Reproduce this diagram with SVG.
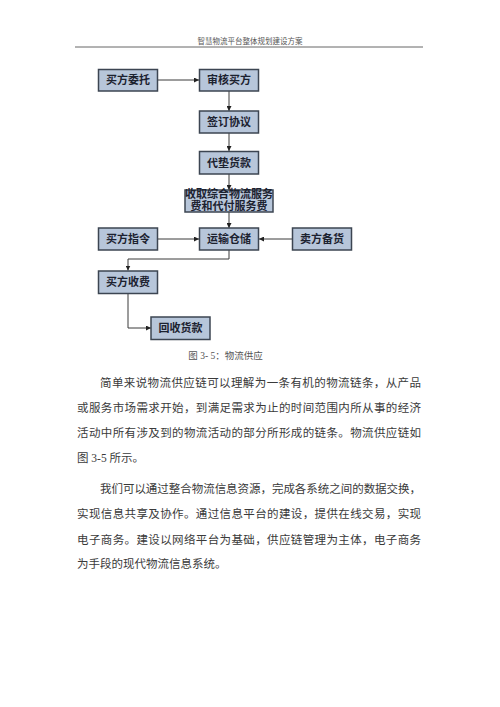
<svg xmlns="http://www.w3.org/2000/svg" width="500" height="707" viewBox="0 0 500 707">
<defs>
<style>
.box{fill:#b7c6da;stroke:#3c4552;stroke-width:1.5}
.bt{font-family:"Liberation Serif","Noto Sans CJK SC",serif;font-size:11px;font-weight:bold;fill:#1c2230;text-anchor:middle}
.con{fill:none;stroke:#3a3a3a;stroke-width:1}
.para{font-family:"Liberation Serif","Noto Sans CJK SC",serif;font-size:11.5px;fill:#3a3a3a}
.hdr{font-family:"Liberation Serif","Noto Sans CJK SC",serif;font-size:7.5px;fill:#555}
.cap{font-family:"Liberation Serif","Noto Sans CJK SC",serif;font-size:9.5px;fill:#555;text-anchor:middle}
</style>
<marker id="ah" viewBox="0 0 10 10" refX="10" refY="5" markerWidth="5" markerHeight="5" orient="auto" markerUnits="userSpaceOnUse">
<path d="M0,0 L10,5 L0,10 z" fill="#222"/>
</marker>
</defs>
<rect width="500" height="707" fill="#fff"/>
<text class="hdr" x="250" y="43.5" text-anchor="middle">智慧物流平台整体规划建设方案</text>
<line x1="75" y1="47" x2="423" y2="47" stroke="#666" stroke-width="1"/>

<g id="connectors">
<path class="con" d="M158,80 H199" marker-end="url(#ah)"/>
<path class="con" d="M229,91 V111" marker-end="url(#ah)"/>
<path class="con" d="M229,133 V151" marker-end="url(#ah)"/>
<path class="con" d="M229,174 V190" marker-end="url(#ah)"/>
<path class="con" d="M229,212 V228" marker-end="url(#ah)"/>
<path class="con" d="M158,239 H199" marker-end="url(#ah)"/>
<path class="con" d="M292,239 H259" marker-end="url(#ah)"/>
<path class="con" d="M229,250 V259 H128 V270.5" marker-end="url(#ah)"/>
<path class="con" d="M128,293 V328 H151" marker-end="url(#ah)"/>
</g>

<g id="n1"><rect class="box" x="98.5" y="69.5" width="59" height="21.5"/><text class="bt" x="128" y="84">买方委托</text></g>
<g id="n2"><rect class="box" x="199.5" y="69.5" width="59" height="21.5"/><text class="bt" x="229" y="84">审核买方</text></g>
<g id="n3"><rect class="box" x="199.5" y="111" width="59" height="22"/><text class="bt" x="229" y="126">签订协议</text></g>
<g id="n4"><rect class="box" x="199.5" y="151.5" width="59" height="22.5"/><text class="bt" x="229" y="167">代垫货款</text></g>
<g id="n5"><rect class="box" x="185" y="190" width="88" height="22"/><text class="bt" x="229" y="197.5">收取综合物流服务</text><text class="bt" x="229" y="210">费和代付服务费</text></g>
<g id="n6"><rect class="box" x="98.5" y="228" width="59" height="22"/><text class="bt" x="128" y="243">买方指令</text></g>
<g id="n7"><rect class="box" x="199.5" y="228" width="59" height="22"/><text class="bt" x="229" y="243">运输仓储</text></g>
<g id="n8"><rect class="box" x="292.5" y="228" width="59" height="22"/><text class="bt" x="322" y="243">卖方备货</text></g>
<g id="n9"><rect class="box" x="98.5" y="271" width="59" height="22.5"/><text class="bt" x="128" y="286">买方收费</text></g>
<g id="n10"><rect class="box" x="151" y="317" width="59" height="22.5"/><text class="bt" x="180.5" y="332">回收货款</text></g>

<text class="cap" x="225.5" y="358.5">图 3- 5：物流供应</text>

<text class="para" x="100" y="387" textLength="321" lengthAdjust="spacing">简单来说物流供应链可以理解为一条有机的物流链条，从产品</text>
<text class="para" x="77" y="411.5" textLength="344" lengthAdjust="spacing">或服务市场需求开始，到满足需求为止的时间范围内所从事的经济</text>
<text class="para" x="77" y="437" textLength="344" lengthAdjust="spacing">活动中所有涉及到的物流活动的部分所形成的链条。物流供应链如</text>
<text class="para" x="77" y="461.5">图 3-5 所示。</text>
<text class="para" x="100" y="492.5" textLength="321" lengthAdjust="spacing">我们可以通过整合物流信息资源，完成各系统之间的数据交换，</text>
<text class="para" x="77" y="518" textLength="344" lengthAdjust="spacing">实现信息共享及协作。通过信息平台的建设，提供在线交易，实现</text>
<text class="para" x="77" y="543.5" textLength="344" lengthAdjust="spacing">电子商务。建设以网络平台为基础，供应链管理为主体，电子商务</text>
<text class="para" x="77" y="568">为手段的现代物流信息系统。</text>
</svg>
